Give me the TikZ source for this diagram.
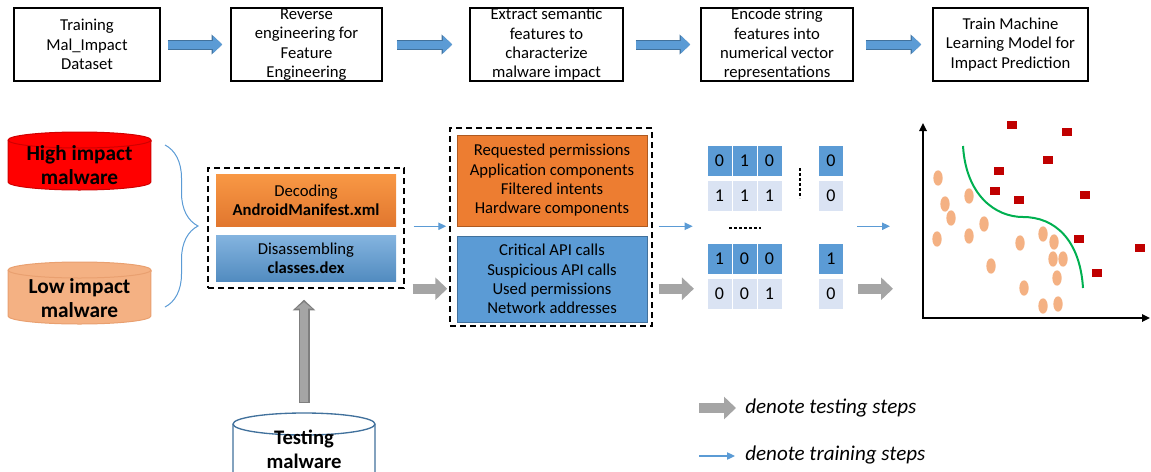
\documentclass[tikz,border=0pt]{standalone}
\usepackage{fontspec}
\setmainfont{Carlito}
\usetikzlibrary{arrows.meta,calc,decorations.pathreplacing,shapes.geometric}

\definecolor{arrowblue}{HTML}{5B9BD5}
\definecolor{edgeblue}{HTML}{41719C}
\definecolor{boxorange}{HTML}{ED7D31}
\definecolor{edgeorange}{HTML}{AE5A21}
\definecolor{arrowgray}{HTML}{A5A5A5}
\definecolor{edgegray}{HTML}{7F7F7F}
\definecolor{highred}{HTML}{FF0000}
\definecolor{highedge}{HTML}{D00000}
\definecolor{lowfill}{HTML}{F4B183}
\definecolor{lowedge}{HTML}{E9A070}
\definecolor{lightcell}{HTML}{DAE3F3}
\definecolor{sqred}{HTML}{C00000}
\definecolor{curvegreen}{HTML}{00B050}

\tikzset{
  topbox/.style={draw, line width=1.1pt, minimum height=54.75pt, inner sep=0pt},
  toptext/.style={align=center, inner sep=0pt, font=\fontsize{12.5}{14.5}\selectfont},
  fatarrow/.style={draw=arrowblue, line width=6pt, -{Triangle[length=7pt,width=12.75pt]},
    preaction={draw=edgeblue, line width=7.5pt, -{Triangle[length=8pt,width=14.5pt]}}},
  grayarrow/.style={draw=arrowgray, line width=7.5pt, -{Triangle[length=9pt,width=16.5pt]}},
  thinarrow/.style={draw=arrowblue, line width=0.9pt, -{Triangle[length=6pt,width=5.5pt]}},
  dashbox/.style={draw, line width=1.1pt, dash pattern=on 4.5pt off 3pt, inner sep=0pt},
  listbox/.style={align=center, inner sep=0pt, minimum width=142.5pt, font=\fontsize{12.5}{14.5}\selectfont},
  cyltext/.style={align=center, inner sep=0pt, font=\bfseries\fontsize{16}{18}\selectfont},
  cell/.style={minimum width=18pt, minimum height=22.5pt, inner sep=0pt, font=\fontsize{13.5}{14}\selectfont},
  darkcell/.style={cell, fill=arrowblue},
  lightcell/.style={cell, fill=lightcell},
  dotline/.style={line width=2.2pt, dash pattern=on 2pt off 1.75pt},
  redsq/.style={fill=sqred, minimum width=8pt, minimum height=6.2pt, inner sep=0pt},
  orgdot/.style={ellipse, fill=lowfill, minimum width=7pt, minimum height=11.5pt, inner sep=0pt},
  axisline/.style={line width=1.5pt, {Triangle[length=6pt,width=5.5pt]}-{Triangle[length=6pt,width=5.5pt]}},
  legtext/.style={anchor=west, inner sep=0pt, font=\itshape\fontsize{15.8}{18}\selectfont}
}

\begin{document}
\begin{tikzpicture}[x=0.75pt,y=-0.75pt]
\useasboundingbox (0,0) rectangle (1151,471);

% pipeline steps
\node[topbox,toptext,minimum width=109.5pt] (train) at (87,44.5) {Training\\Mal\_Impact\\Dataset};
\node[topbox,minimum width=113.25pt] (rev) at (306.5,44.5) {};
\node[toptext] (revtxt) at (rev) {Reverse\\engineering for\\Feature\\Engineering};
\node[topbox,minimum width=114.75pt] (sem) at (546.5,44.5) {};
\node[toptext] (semtxt) at (sem) {Extract semantic\\features to\\characterize\\malware impact};
\node[topbox,minimum width=114pt] (enc) at (777,44.5) {};
\node[toptext] (enctxt) at (enc) {Encode string\\features into\\numerical vector\\representations};
\node[topbox,toptext,minimum width=116.25pt] (model) at (1010.5,44.5) {Train Machine\\Learning Model for\\Impact Prediction};
\draw[fatarrow,shorten <=5.25pt,shorten >=6pt] (train) -- (rev);
\draw[fatarrow,shorten <=10.5pt,shorten >=12.75pt] (rev) -- (sem);
\draw[fatarrow,shorten <=9pt,shorten >=7.5pt] (sem) -- (enc);
\draw[fatarrow,shorten <=9pt,shorten >=8.25pt] (enc) -- (model);

% malware stores
\draw[draw=highedge,fill=highred,line width=0.75pt] (8,140) -- (8,182) arc[start angle=180,end angle=360,x radius=53.6pt,y radius=6pt] -- (151,140) arc[start angle=0,end angle=180,x radius=53.6pt,y radius=6pt] -- cycle;
\draw[highedge,line width=0.75pt] (8,140) arc[start angle=180,end angle=360,x radius=53.6pt,y radius=6pt];
\node[cyltext] (high) at (79.5,165) {High impact\\malware};
\draw[draw=lowedge,fill=lowfill,line width=0.75pt] (8,270) -- (8,316) arc[start angle=180,end angle=360,x radius=53.6pt,y radius=6pt] -- (151,270) arc[start angle=0,end angle=180,x radius=53.6pt,y radius=6pt] -- cycle;
\draw[lowedge,line width=0.75pt] (8,270) arc[start angle=180,end angle=360,x radius=53.6pt,y radius=6pt];
\node[cyltext] (low) at (79.5,298.5) {Low impact\\malware};
\draw[draw=edgeblue,fill=white,line width=1pt] (233,424) -- (233,480) -- (375,480) -- (375,424) arc[start angle=0,end angle=180,x radius=53.25pt,y radius=8.25pt] -- cycle;
\draw[edgeblue,line width=1pt] (233,424) arc[start angle=180,end angle=360,x radius=53.25pt,y radius=8.25pt];
\node[cyltext,font=\bfseries\fontsize{15.5}{18}\selectfont] (test) at (304,449.5) {Testing\\malware};
\coordinate (testtop) at (304,413);

\coordinate (bracetop) at (165,145);
\coordinate (bracebot) at (165,307);
\draw[arrowblue,line width=0.75pt,decorate,decoration={brace,amplitude=24.75pt}] (bracetop) -- (bracebot);

% reverse engineering
\node[dashbox,minimum width=147pt,minimum height=90pt] (dash1) at (306,228) {};
\node[listbox,minimum width=135pt,minimum height=39pt,top color=orange!55!boxorange!80!white,bottom color=boxorange!95!black] (dec) at (306,200) {Decoding\\\textbf{AndroidManifest.xml}};
\node[listbox,minimum width=135pt,minimum height=34.5pt,top color=arrowblue!75!white,bottom color=arrowblue!90!black] (dis) at (306,258) {Disassembling\\\textbf{classes.dex}};

% semantic features
\node[dashbox,minimum width=151.5pt,minimum height=148.5pt] (dash2) at (551,227) {};
\node[listbox,minimum height=68.25pt,fill=boxorange,draw=edgeorange] (perm) at (552,180.5) {Requested permissions\\Application components\\Filtered intents\\Hardware components};
\node[listbox,minimum height=64.5pt,fill=arrowblue,draw=edgeblue] (api) at (552,279) {Critical API calls\\Suspicious API calls\\Used permissions\\Network addresses};

% feature vectors
\node[darkcell] (c11) at (719.5,160.5) {0};
\node[darkcell] (c12) at (744.5,160.5) {1};
\node[darkcell] (c13) at (769.5,160.5) {0};
\node[darkcell] (c14) at (831,160.5) {0};
\node[lightcell] (c21) at (719.5,195.5) {1};
\node[lightcell] (c22) at (744.5,195.5) {1};
\node[lightcell] (c23) at (769.5,195.5) {1};
\node[lightcell] (c24) at (831,195.5) {0};
\node[darkcell] (c31) at (719.5,259) {1};
\node[darkcell] (c32) at (744.5,259) {0};
\node[darkcell] (c33) at (769.5,259) {0};
\node[darkcell] (c34) at (831,259) {1};
\node[lightcell] (c41) at (719.5,294) {0};
\node[lightcell] (c42) at (744.5,294) {0};
\node[lightcell] (c43) at (769.5,294) {1};
\node[lightcell] (c44) at (831,294) {0};
\coordinate (vd1) at (800,168);
\coordinate (vd2) at (800,198);
\draw[dotline] (vd1) -- (vd2);
\coordinate (hd1) at (729,228);
\coordinate (hd2) at (761,228);
\draw[dotline] (hd1) -- (hd2);

% classifier
\coordinate (O) at (923,318);
\coordinate (ytop) at (923,123);
\coordinate (xend) at (1150,318);
\draw[axisline] (ytop) -- (O) -- (xend);
\draw[curvegreen,line width=1.5pt] (963,146) .. controls (966,195) and (995,217) .. (1023,217) .. controls (1055,217) and (1080,240) .. (1083,288);
\node[redsq] (s1) at (1012,125) {};
\node[redsq] (s2) at (1067,132) {};
\node[redsq] (s3) at (1048,160) {};
\node[redsq] (s4) at (999,171) {};
\node[redsq] (s5) at (995,191) {};
\node[redsq] (s6) at (1019,200) {};
\node[redsq] (s7) at (1085,195) {};
\node[redsq] (s8) at (1079,239) {};
\node[redsq] (s9) at (1140,248) {};
\node[redsq] (s10) at (1097,273) {};
\node[orgdot] (e1) at (938,178) {};
\node[orgdot] (e2) at (945,204) {};
\node[orgdot] (e3) at (951,218) {};
\node[orgdot] (e4) at (969,196) {};
\node[orgdot] (e5) at (984,224) {};
\node[orgdot] (e6) at (937,239) {};
\node[orgdot] (e7) at (969,236) {};
\node[orgdot] (e8) at (991,266) {};
\node[orgdot] (e9) at (1020,243) {};
\node[orgdot] (e10) at (1043,234) {};
\node[orgdot] (e11) at (1054,242) {};
\node[orgdot] (e12) at (1053,259) {};
\node[orgdot] (e13) at (1063,259) {};
\node[orgdot] (e14) at (1057,278) {};
\node[orgdot] (e15) at (1024,288) {};
\node[orgdot] (e16) at (1043,306) {};
\node[orgdot] (e17) at (1058,304) {};

% training and testing flow
\draw[thinarrow,shorten <=6.75pt,shorten >=2.25pt] (dash1.east |- dec.south) -- (dash2.west |- dec.south);
\draw[thinarrow,shorten <=4.5pt,shorten >=10.9pt] (dash2.east |- dec.south) -- (c31.west |- dec.south);
\draw[thinarrow,shorten <=10.5pt,shorten >=24.75pt] (c34.east |- dec.south) -- (O |- dec.south);
\draw[grayarrow,shorten <=6pt,shorten >=1.5pt] (dash1.south east) -- (dash2.west |- dash1.south);
\draw[grayarrow,shorten <=4.5pt,shorten >=10pt] (dash2.east |- dash1.south) -- (c41.west |- dash1.south);
\draw[grayarrow,shorten <=11.25pt,shorten >=22.5pt] (c44.east |- dash1.south) -- (O |- dash1.south);
\draw[draw=edgegray,line width=8.25pt,-{Triangle[length=8pt,width=16.5pt]},shorten <=7.5pt,shorten >=8.25pt,
  postaction={draw=arrowgray,line width=5.5pt,-{Triangle[length=5pt,width=12pt]},shorten <=8.6pt,shorten >=10pt}] (testtop) -- (dash1.south -| testtop);

% legend
\coordinate (legA) at (699,408);
\node[legtext] (legtest) at (745,408) {denote testing steps};
\draw[grayarrow,shorten >=6.75pt] (legA) -- (legtest.west);
\coordinate (legB) at (699,456);
\node[legtext] (legtrain) at (745,455) {denote training steps};
\draw[thinarrow,shorten >=7.5pt] (legB) -- (legB -| legtrain.west);
\end{tikzpicture}
\end{document}
